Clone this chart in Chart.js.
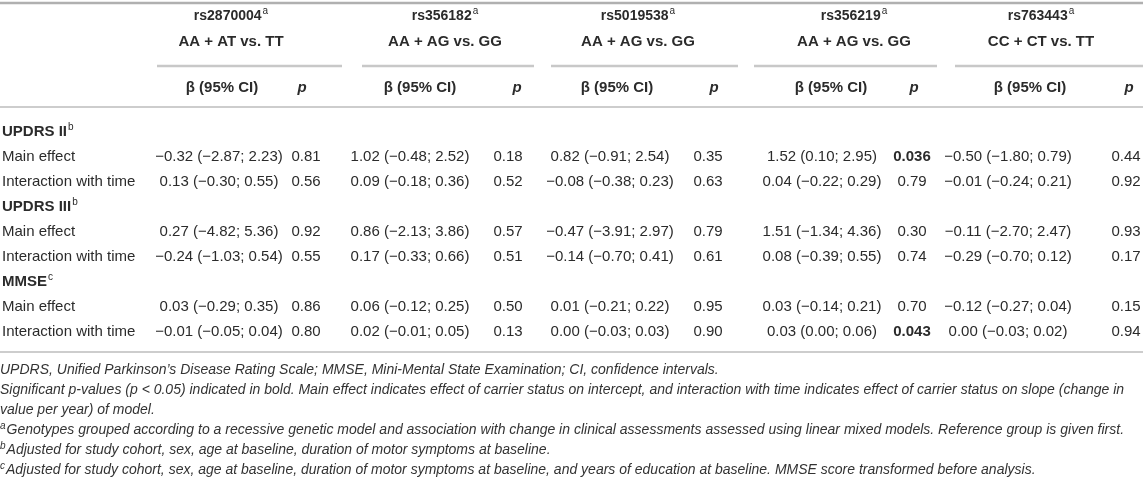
<!DOCTYPE html>
<html>
<head>
<meta charset="utf-8">
<script src="https://cdn.jsdelivr.net/npm/chart.js@4.4.1/dist/chart.umd.min.js"></script>
<style>
  html, body { margin: 0; padding: 0; background: #fff; }
  #wrap { width: 1143px; height: 480px; }
</style>
</head>
<body>
<div id="wrap"><canvas id="tbl" width="1143" height="480"></canvas></div>
<script>
// ---- table content ----
const snps = ["rs2870004", "rs356182", "rs5019538", "rs356219", "rs763443"];
const snpNotes = ["a", "a", "a", "a", "a"];
const genotypes = ["AA + AT vs. TT", "AA + AG vs. GG", "AA + AG vs. GG", "AA + AG vs. GG", "CC + CT vs. TT"];
const colHeads = ["\u03b2 (95% CI)", "p"];
const sections = ["UPDRS II", "UPDRS III", "MMSE"];
const sectionNotes = ["b", "b", "c"];
const effects = ["Main effect", "Interaction with time"];

// row order: UPDRS II main, UPDRS II time, UPDRS III main, UPDRS III time, MMSE main, MMSE time
const est2870004 = [-0.32, 0.13, 0.27, -0.24, 0.03, -0.01];
const lo2870004  = [-2.87, -0.30, -4.82, -1.03, -0.29, -0.05];
const hi2870004  = [2.23, 0.55, 5.36, 0.54, 0.35, 0.04];
const p2870004   = [0.81, 0.56, 0.92, 0.55, 0.86, 0.80];

const est356182 = [1.02, 0.09, 0.86, 0.17, 0.06, 0.02];
const lo356182  = [-0.48, -0.18, -2.13, -0.33, -0.12, -0.01];
const hi356182  = [2.52, 0.36, 3.86, 0.66, 0.25, 0.05];
const p356182   = [0.18, 0.52, 0.57, 0.51, 0.50, 0.13];

const est5019538 = [0.82, -0.08, -0.47, -0.14, 0.01, 0.00];
const lo5019538  = [-0.91, -0.38, -3.91, -0.70, -0.21, -0.03];
const hi5019538  = [2.54, 0.23, 2.97, 0.41, 0.22, 0.03];
const p5019538   = [0.35, 0.63, 0.79, 0.61, 0.95, 0.90];

const est356219 = [1.52, 0.04, 1.51, 0.08, 0.03, 0.03];
const lo356219  = [0.10, -0.22, -1.34, -0.39, -0.14, 0.00];
const hi356219  = [2.95, 0.29, 4.36, 0.55, 0.21, 0.06];
const p356219   = [0.036, 0.79, 0.30, 0.74, 0.70, 0.043];

const est763443 = [-0.50, -0.01, -0.11, -0.29, -0.12, 0.00];
const lo763443  = [-1.80, -0.24, -2.70, -0.70, -0.27, -0.03];
const hi763443  = [0.79, 0.21, 2.47, 0.12, 0.04, 0.02];
const p763443   = [0.44, 0.92, 0.93, 0.17, 0.15, 0.94];

const estAll = [est2870004, est356182, est5019538, est356219, est763443];
const loAll  = [lo2870004, lo356182, lo5019538, lo356219, lo763443];
const hiAll  = [hi2870004, hi356182, hi5019538, hi356219, hi763443];
const pAll   = [p2870004, p356182, p5019538, p356219, p763443];

const footnotes = [
  ["", "UPDRS, Unified Parkinson\u2019s Disease Rating Scale; MMSE, Mini-Mental State Examination; CI, confidence intervals."],
  ["", "Significant p-values (p < 0.05) indicated in bold. Main effect indicates effect of carrier status on intercept, and interaction with time indicates effect of carrier status on slope (change in"],
  ["", "value per year) of model."],
  ["a", "Genotypes grouped according to a recessive genetic model and association with change in clinical assessments assessed using linear mixed models. Reference group is given first."],
  ["b", "Adjusted for study cohort, sex, age at baseline, duration of motor symptoms at baseline."],
  ["c", "Adjusted for study cohort, sex, age at baseline, duration of motor symptoms at baseline, and years of education at baseline. MMSE score transformed before analysis."]
];

// ---- layout (x in px units, y in row units; body row 0 = first section row) ----
const FAMILY = '"Liberation Sans", Arial, Helvetica, sans-serif';
const TEXT = "#2b2b2b";
const RULE = "#bdbdbd";
const X_LABEL = 2;
const X_GROUP = [231, 445, 638, 854, 1041];
const X_BETA_HEAD = [222, 420, 617, 831, 1030];
const X_P_HEAD = [302, 517, 714, 914, 1129];
const X_BETA = [219, 410, 610, 822, 1008];
const X_P = [306, 508, 708, 912, 1126];
const RULE_SPANS = [[157, 342], [362, 534], [551, 738], [754, 937], [955, 1143]];
const Y_TOPRULE = -5.16, Y_SNP = -4.62, Y_GENO = -3.62, Y_SUBRULE = -2.64;
const Y_COLHEAD = -1.76, Y_HEADRULE = -1.0, Y_BOTRULE = 8.8;
const Y_NOTE0 = 9.52, NOTE_STEP = 0.8;

const fmt = v => (v < 0 ? "\u2212" : "") + Math.abs(v).toFixed(2);

// body rows: section header then its two effect rows
const labelCells = [];
const dataRows = [];
sections.forEach((s, si) => {
  labelCells.push({ text: s, sup: sectionNotes[si], font: "bold 15px " + FAMILY, y: labelCells.length });
  effects.forEach(e => {
    dataRows.push(labelCells.length);
    labelCells.push({ text: e, sup: "", font: "15px " + FAMILY, y: labelCells.length });
  });
});

const datasets = [{
  label: "rows",
  align: "left",
  data: labelCells.map(c => ({ x: X_LABEL, y: c.y })),
  cells: labelCells
}];
snps.forEach((s, i) => {
  datasets.push({
    label: s + " beta",
    align: "center",
    data: dataRows.map(r => ({ x: X_BETA[i], y: r })),
    cells: estAll[i].map((e, j) => ({
      text: fmt(e) + " (" + fmt(loAll[i][j]) + "; " + fmt(hiAll[i][j]) + ")",
      sup: "", font: "15px " + FAMILY
    }))
  });
  datasets.push({
    label: s + " p",
    align: "center",
    data: dataRows.map(r => ({ x: X_P[i], y: r })),
    cells: pAll[i].map(p => ({
      text: p < 0.05 ? p.toFixed(3) : p.toFixed(2),
      sup: "", font: (p < 0.05 ? "bold " : "") + "15px " + FAMILY
    }))
  });
});

function drawSup(ctx, text, sup, x, y, font, align, supFont, supRise) {
  ctx.font = font;
  const w = ctx.measureText(text).width;
  let sw = 0;
  if (sup) { ctx.font = supFont; sw = ctx.measureText(sup).width + 1; }
  let x0 = x;
  if (align === "center") x0 = x - (w + sw) / 2;
  else if (align === "right") x0 = x - w - sw;
  ctx.textAlign = "left";
  ctx.textBaseline = "middle";
  ctx.font = font;
  ctx.fillText(text, x0, y);
  if (sup) {
    ctx.font = supFont;
    ctx.fillText(sup, x0 + w + 1, y - supRise);
  }
}

function hline(ctx, x1, x2, y, lw, col) {
  ctx.strokeStyle = col;
  ctx.lineWidth = lw;
  ctx.beginPath();
  ctx.moveTo(x1, y);
  ctx.lineTo(x2, y);
  ctx.stroke();
}

const tablePlugin = {
  id: "tableText",
  beforeDraw(chart) {
    const ctx = chart.ctx;
    ctx.save();
    ctx.fillStyle = "#fff";
    ctx.fillRect(0, 0, chart.width, chart.height);
    ctx.restore();
  },
  afterDatasetsDraw(chart) {
    const ctx = chart.ctx;
    const X = v => chart.scales.x.getPixelForValue(v);
    const Y = v => chart.scales.y.getPixelForValue(v);
    const supSmall = "10px " + FAMILY;
    ctx.save();

    // rules
    hline(ctx, X(0), X(1143), Y(Y_TOPRULE), 2.5, "#b0b0b0");
    RULE_SPANS.forEach(sp => hline(ctx, X(sp[0]), X(sp[1]), Y(Y_SUBRULE), 2.5, "#c8c8c8"));
    hline(ctx, X(0), X(1143), Y(Y_HEADRULE), 1.5, RULE);
    hline(ctx, X(0), X(1143), Y(Y_BOTRULE), 1.5, RULE);

    // column headers
    ctx.fillStyle = TEXT;
    snps.forEach((s, i) => {
      drawSup(ctx, s, snpNotes[i], X(X_GROUP[i]), Y(Y_SNP), "bold 14px " + FAMILY, "center", supSmall, 5);
      drawSup(ctx, genotypes[i], "", X(X_GROUP[i]), Y(Y_GENO), "bold 15px " + FAMILY, "center");
      drawSup(ctx, colHeads[0], "", X(X_BETA_HEAD[i]), Y(Y_COLHEAD), "bold 15px " + FAMILY, "center");
      drawSup(ctx, colHeads[1], "", X(X_P_HEAD[i]), Y(Y_COLHEAD), "italic bold 15px " + FAMILY, "center");
    });

    // body cells, placed at the points the scales computed
    chart.data.datasets.forEach((ds, di) => {
      const meta = chart.getDatasetMeta(di);
      meta.data.forEach((pt, j) => {
        const c = ds.cells[j];
        drawSup(ctx, c.text, c.sup, pt.x, pt.y, c.font, ds.align, supSmall, 5);
      });
    });

    // footnotes
    ctx.fillStyle = "#333";
    footnotes.forEach((fn, k) => {
      const y = Y(Y_NOTE0 + k * NOTE_STEP);
      let x = X(0);
      ctx.textBaseline = "middle";
      ctx.textAlign = "left";
      if (fn[0]) {
        ctx.font = "italic 10px " + FAMILY;
        ctx.fillText(fn[0], x, y - 4);
        x += ctx.measureText(fn[0]).width + 1;
      }
      ctx.font = "italic 14px " + FAMILY;
      ctx.fillText(fn[1], x, y);
    });
    ctx.restore();
  }
};

new Chart(document.getElementById("tbl"), {
  type: "scatter",
  data: { datasets: datasets },
  options: {
    responsive: false,
    animation: false,
    events: [],
    layout: { padding: 0 },
    elements: { point: { radius: 0, hoverRadius: 0 } },
    plugins: { legend: { display: false }, tooltip: { enabled: false } },
    scales: {
      x: { type: "linear", min: 0, max: 1143, display: false },
      y: { type: "linear", min: -5.28, max: 13.92, reverse: true, display: false }
    }
  },
  plugins: [tablePlugin]
});
</script>
</body>
</html>
